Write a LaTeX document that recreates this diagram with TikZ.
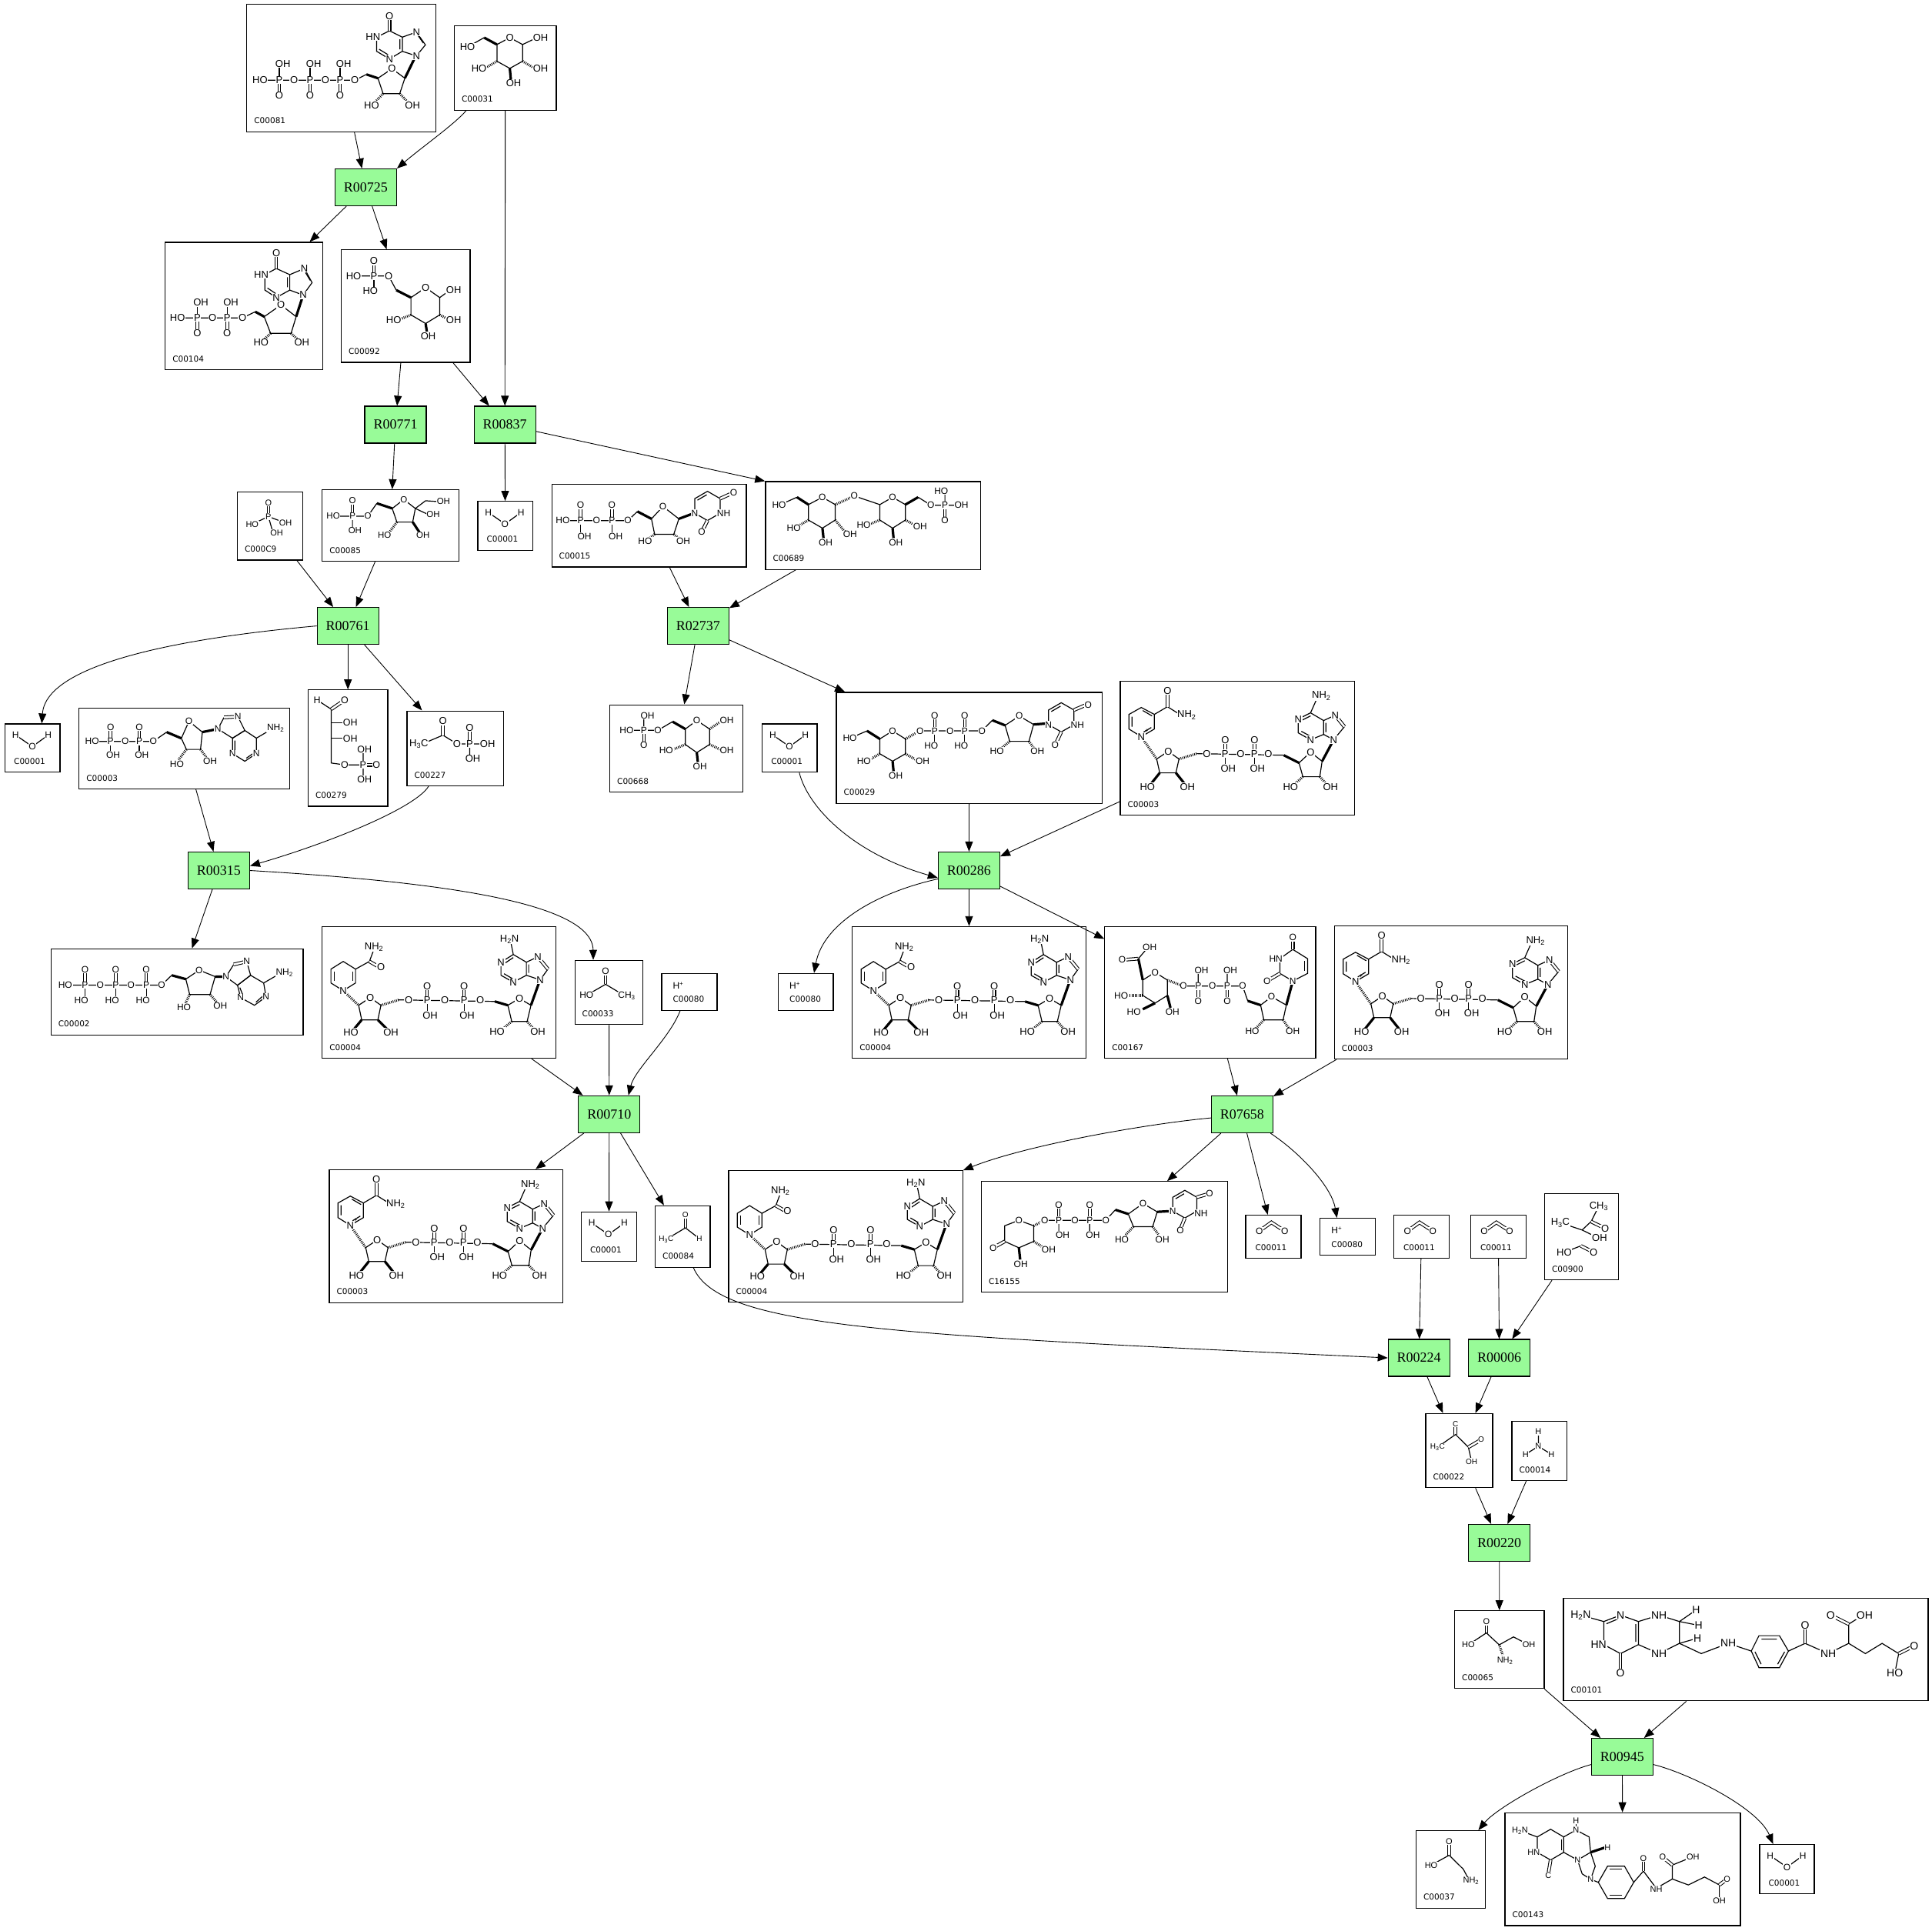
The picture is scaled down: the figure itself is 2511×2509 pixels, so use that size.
\documentclass[tikz,border=0pt]{standalone}
\usepackage{fontspec}
\usetikzlibrary{arrows.meta,fit,calc}
\newfontfamily\chemfont{Liberation Sans}
\newfontfamily\idfont{DejaVu Sans}
\newfontfamily\rxnfont{Liberation Serif}
\definecolor{rxngreen}{HTML}{98FB98}
\tikzset{
 cbox/.style={draw, line width=1.2pt, inner sep=0pt},
 rxn/.style={draw, line width=1.1pt, fill=rxngreen, minimum width=80pt, minimum height=48pt, inner sep=0pt, font=\rxnfont\fontsize{18}{18}\selectfont},
 arr/.style={line width=0.9pt, -{Triangle[length=13pt,width=10pt]}},
 idlbl/.style={font=\idfont\fontsize{10.5}{10.5}\selectfont, inner sep=0pt, anchor=base west},
 atom/.style={inner sep=0.7pt, fill=white},
 bond/.style={line width=1.2pt},
 dbl/.style={line width=1.05pt, double, double distance=2.5pt},
 wedge/.style={line width=3.2pt},
 hash/.style={line width=3.2pt, dash pattern=on 0.9pt off 1.4pt},
}
\newcommand\A[3][13]{\node[atom,font=\chemfont\fontsize{#1}{#1}\selectfont] at (#2) {#3};}
\newcommand\cpd[7][10]{%
  \coordinate (#2-nw) at (#3,#4);
  \coordinate (#2-se) at (#5,#6);
  \node[cbox, fit=(#2-nw)(#2-se)] (#2) {};
  \node[idlbl] at ([xshift=#1pt,yshift=11pt]#2.south west) {#7};
}
\tikzset{
 water/.pic={
  \draw[bond] (14.3,15) -- (36,30) -- (56.7,15);
  \A[12]{14.3,15}{H} \A[12]{36,30}{O} \A[12]{56.7,15}{H}
 },
 hplus/.pic={
  \node[atom,anchor=base west,font=\chemfont\fontsize{12}{12}\selectfont] at (14.3,20.7) {H\textsuperscript{+}};
 },
 cotwo/.pic={
  \draw[dbl] (18.3,21.3) -- (34,10) -- (51.3,21.3);
  \A[12]{18.3,21.3}{O} \A[12]{51.3,21.3}{O}
 },
 nhthree/.pic={
  \draw[bond] (35,14)--(35,33) (18.4,43.3)--(35,33)--(51.8,43.3);
  \A[11]{35,14}{H} \A[11]{35,33}{N} \A[11]{18.4,43.3}{H} \A[11]{51.8,43.3}{H}
 },
 nadp/.pic={
  \draw[bond] (12,44)--(28,35)--(45,44)--(45,63)--(28,73)--(12,63)--cycle;
  \draw[bond] (16,47)--(16,60) (30,39)--(42,46) (41,61)--(31,67);
  \draw[bond] (45,44)--(62,34)--(78,44);
  \draw[dbl] (62,34)--(62,14);
  \draw[hash] (28,73)--(48,102);
  \draw[bond] (48,102)--(63,92)--(77,102)--(73,120)--(52,120)--cycle;
  \draw[wedge] (52,120)--(40,135);
  \draw[wedge] (73,120)--(85,135);
  \draw[hash] (77,102)--(100,95);
  \draw[bond] (100,95)--(213,97);
  \draw[dbl] (137,95)--(137,77); \draw[bond] (137,95)--(137,113);
  \draw[dbl] (175,95)--(175,77); \draw[bond] (175,95)--(175,113);
  \draw[wedge] (213,97)--(233,107);
  \draw[bond] (233,107)--(248,93)--(263,105)--(260,125)--(238,125)--cycle;
  \draw[hash] (238,125)--(226,136);
  \draw[hash] (260,125)--(270,136);
  \draw[wedge] (263,105)--(278,77);
  \draw[bond] (278,77)--(292,60) (280,45)--(265,52)--(265,70)--(278,77);
  \draw[dbl] (292,60)--(280,45);
  \draw[bond] (265,70)--(248,77)--(232,68)--(232,50)--(248,42)--(265,52);
  \draw[bond] (249,73)--(236,66) (236,52)--(248,46) (268,55)--(268,67);
  \draw[bond] (248,42)--(256,24);
  \A{28,73}{N} \node[font=\chemfont\fontsize{8}{8}\selectfont] at (35,66) {+};
  \A{62,13}{O} \node[atom,anchor=west,font=\chemfont\fontsize{13}{13}\selectfont] at (74,45) {NH\textsubscript{2}};
  \A{63,92}{O} \A{36,138}{HO} \A{88,138}{OH}
  \A{113,95}{O} \A{137,95}{P} \A{157,95}{O} \A{175,95}{P} \A{193,95}{O}
  \A{137,77}{O} \A{141,114}{OH} \A{175,77}{O} \A{179,114}{OH}
  \A{248,93}{O} \A{222,138}{HO} \A{274,138}{OH}
  \A{278,77}{N} \A{280,45}{N} \A{248,77}{N} \A{232,50}{N}
  \A{262,20}{NH\textsubscript{2}}
 },
 nadh/.pic={
  \draw[bond] (12,56)--(28,46)--(44,56)--(44,74)--(28,84)--(12,74)--cycle;
  \draw[bond] (16,59)--(16,71) (40,59)--(40,71);
  \draw[bond] (44,56)--(62,46)--(68,30);
  \draw[dbl] (62,46)--(76,54);
  \draw[hash] (28,84)--(48,103);
  \draw[bond] (48,103)--(63,93)--(77,103)--(73,122)--(52,122)--cycle;
  \draw[wedge] (52,122)--(42,134);
  \draw[wedge] (73,122)--(85,134);
  \draw[hash] (77,103)--(100,96);
  \draw[bond] (100,96)--(225,98);
  \draw[dbl] (137,96)--(137,78); \draw[bond] (137,96)--(137,114);
  \draw[dbl] (185,96)--(185,78); \draw[bond] (185,96)--(185,114);
  \draw[wedge] (225,98)--(242,103);
  \draw[bond] (242,103)--(257,94)--(272,103)--(267,124)--(247,124)--cycle;
  \draw[hash] (247,124)--(236,133);
  \draw[hash] (267,124)--(275,133);
  \draw[wedge] (272,103)--(283,72);
  \draw[bond] (284,70)--(294,56) (281,40)--(266,47)--(266,64)--(284,70);
  \draw[dbl] (294,56)--(281,40);
  \draw[bond] (266,64)--(249,73)--(233,64)--(233,47)--(249,37)--(266,47);
  \draw[bond] (249,69)--(237,62) (237,49)--(249,41) (269,50)--(269,61);
  \draw[bond] (249,37)--(246,22);
  \A{28,84}{N} \A{77,53}{O} \A{68,27}{NH\textsubscript{2}}
  \A{63,93}{O} \A{38,138}{HO} \A{90,138}{OH}
  \A{113,96}{O} \A{137,96}{P} \A{160,96}{O} \A{185,96}{P} \A{206,96}{O}
  \A{137,78}{O} \A{141,116}{OH} \A{185,78}{O} \A{189,116}{OH}
  \A{257,94}{O} \A{228,137}{HO} \A{281,137}{OH}
  \A{284,70}{N} \A{281,40}{N} \A{249,73}{N} \A{233,47}{N}
  \A{244,17}{H\textsubscript{2}N}
 },
 sc81/.pic={
  \draw[bond] (17.7,99.3)--(141,99.3)--(156,91.7);
  \draw[bond] (42.7,99.3)--(42.7,78) (82.7,99.3)--(82.7,78) (121.7,99.3)--(121.7,78);
  \draw[dbl] (42.7,99.3)--(42.7,119) (82.7,99.3)--(82.7,119) (121.7,99.3)--(121.7,119);
  \draw[wedge] (156,91.7)--(171,96.7);
  \draw[bond] (171,96.7)--(189.3,84.3)--(206,96.7)--(199.3,116.7)--(177.7,116.7)--cycle;
  \draw[hash] (177.7,116.7)--(166,129);
  \draw[hash] (199.3,116.7)--(211,129);
  \draw[wedge] (206,96.7)--(219,70);
  \draw[bond] (186,35)--(169.3,43.3)--(169.3,61.7)--(186,71.7)--(202.7,61.7)--(202.7,43.3)--cycle;
  \draw[bond] (202.7,43.3)--(221,36.7)--(232.7,53.3)--(221,67.7)--(202.7,61.7);
  \draw[bond] (172.5,59)--(184,66) (199.5,46)--(199.5,59) (223,41)--(230,51);
  \draw[dbl] (186,35)--(186,16);
  \A{17.7,99.3}{HO} \A{42.7,99.3}{P} \A{62,99.3}{O} \A{82.7,99.3}{P} \A{102.7,99.3}{O} \A{121.7,99.3}{P} \A{141,99.3}{O}
  \A{47.5,78}{OH} \A{87.5,78}{OH} \A{126.5,78}{OH}
  \A{42.7,119}{O} \A{82.7,119}{O} \A{121.7,119}{O}
  \A{189.3,84.3}{O} \A{162.7,131.7}{HO} \A{216,131.7}{OH}
  \A{186,15.7}{O} \A{164.6,43.3}{HN} \A{186,71.7}{N} \A{221,36.7}{N} \A{221,67.7}{N}
 },
 sc31/.pic={
  \draw[bond] (17.7,28.3)--(39.3,16);
  \draw[wedge] (39.3,16)--(56,25);
  \draw[bond] (56,25)--(72.7,16)--(89.3,25)--(89.3,46.7)--(72.7,56)--(56,46.7)--cycle;
  \draw[bond] (89.3,25)--(108,16);
  \draw[hash] (56,46.7)--(40,56);
  \draw[hash] (89.3,46.7)--(105,56);
  \draw[wedge] (72.7,56)--(74,70);
  \A{17.7,28.3}{HO} \A{72.7,16}{O} \A{112.7,16}{OH} \A{32.7,56}{HO} \A{112.7,56}{OH} \A{77.7,75}{OH}
 },
 sc104/.pic={
  \draw[bond] (16.6,98.8)--(101.1,98.8)--(117.7,90.8);
  \draw[bond] (42.3,98.8)--(42.3,79) (81.2,98.8)--(81.2,79);
  \draw[dbl] (42.3,98.8)--(42.3,118.9) (81.2,98.8)--(81.2,118.9);
  \draw[wedge] (117.7,90.8)--(129.3,97.2);
  \draw[bond] (129.3,97.2)--(151,82)--(170.8,97.2)--(164.2,118.9)--(137.6,118.9)--cycle;
  \draw[hash] (137.6,118.9)--(128,128); \draw[hash] (164.2,118.9)--(174,128);
  \draw[wedge] (170.8,97.2)--(179.9,69.1);
  \draw[bond] (145,34.6)--(130.2,42.6)--(130.2,62.7)--(145,72.3)--(162.5,62.7)--(162.5,42.6)--cycle;
  \draw[bond] (162.5,42.6)--(181.5,34.6)--(191.5,53)--(179.9,69.1)--(162.5,62.7);
  \draw[bond] (133.5,60)--(144,67) (159.5,46)--(159.5,59) (183,40)--(189,50);
  \draw[dbl] (145,34.6)--(145,14.5);
  \A{16.6,98.8}{HO} \A{42.3,98.8}{P} \A{47,78.8}{OH} \A{42.3,118.9}{O} \A{62.2,98.8}{O}
  \A{81.2,98.8}{P} \A{86,78.8}{OH} \A{81.2,118.9}{O} \A{101.1,98.8}{O}
  \A{151,82}{O} \A{125.2,131}{HO} \A{178.2,131}{OH}
  \A{145,14.5}{O} \A{125.5,42.6}{HN} \A{145,72.3}{N} \A{181.5,34.6}{N} \A{179.9,69.1}{N}
 },
 sc92/.pic={
  \draw[dbl] (43.1,34.6)--(43.1,15.3);
  \draw[bond] (16.6,34.6)--(62.2,34.6)--(72.1,53);
  \draw[bond] (43.1,34.6)--(43.1,53.8);
  \draw[wedge] (72.1,53)--(91.2,62.7);
  \draw[bond] (91.2,62.7)--(110.3,49.8)--(128.6,62.7)--(128.6,85.2)--(110.3,96.4)--(91.2,85.2)--cycle;
  \draw[bond] (128.6,62.7)--(142,53);
  \draw[hash] (91.2,85.2)--(75,91.6); \draw[hash] (128.6,85.2)--(141,91.6);
  \draw[wedge] (110.3,96.4)--(112,108);
  \A{43.1,15.3}{O} \A{16.6,34.6}{HO} \A{43.1,34.6}{P} \A{62.2,34.6}{O} \A{38.4,53.8}{HO}
  \A{110.3,49.8}{O} \A{146.8,53}{OH} \A{68.8,91.6}{HO} \A{146.8,91.6}{OH} \A{113.7,112.5}{OH}
 },
 sc09/.pic={
  \draw[dbl] (41,14.7)--(41,32.3);
  \draw[bond] (20,42.3)--(41,32.3)--(63.3,40.7) (41,32.3)--(47,53.3);
  \A[11]{41,14.7}{O} \A[11]{41,32.3}{P} \A[11]{20,42.3}{HO} \A[11]{63.3,40.7}{OH} \A[11]{51.7,53.3}{OH}
 },
 sc85/.pic={
  \draw[dbl] (40,15)--(40,35);
  \draw[bond] (15,35)--(60,35)--(71.7,18.3) (40,35)--(40,54);
  \draw[wedge] (71.7,18.3)--(91.7,25);
  \draw[bond] (91.7,25)--(106.7,13.3)--(121.7,25)--(118.3,42.7)--(97.7,42.7)--cycle;
  \draw[bond] (121.7,25)--(135,15)--(150,16);
  \draw[bond] (121.7,25)--(138,32.7);
  \draw[hash] (97.7,42.7)--(88,56);
  \draw[wedge] (118.3,42.7)--(127,56);
  \A[11.5]{40,15}{O} \A[11.5]{15,35}{HO} \A[11.5]{40,35}{P} \A[11.5]{60,35}{O} \A[11.5]{43.3,54}{OH}
  \A[11.5]{106.7,13.3}{O} \A[11.5]{158.3,16}{OH} \A[11.5]{145,32.7}{OH} \A[11.5]{81.7,60}{HO} \A[11.5]{131.7,60}{OH}
 },
 sc15/.pic={
  \draw[bond] (14.9,48.2)--(99.5,48.2)--(111.9,36.2);
  \draw[dbl] (38.1,48.2)--(38.1,28.1) (78.8,48.2)--(78.8,28.1);
  \draw[bond] (38.1,48.2)--(38.1,68.3) (78.8,48.2)--(78.8,68.3);
  \draw[wedge] (111.9,36.2)--(130.2,45.8);
  \draw[bond] (130.2,45.8)--(145.1,29.7)--(165.8,45.8)--(159.2,65.9)--(134.3,65.9)--cycle;
  \draw[hash] (134.3,65.9)--(125,73); \draw[hash] (159.2,65.9)--(168,73);
  \draw[wedge] (165.8,45.8)--(184,39);
  \draw[bond] (186.5,38.5)--(186.5,19.5)--(203,10)--(219.5,19.5)--(219.5,38.5)--(203,48)--cycle;
  \draw[bond] (190,21.5)--(202,14.5);
  \draw[dbl] (219.5,19.5)--(236,12); \draw[dbl] (203,48)--(196,62);
  \A[12]{14.9,48.2}{HO} \A[12]{38.1,48.2}{P} \A[12]{38.1,28.1}{O} \A[12]{43,68.3}{OH}
  \A[12]{58.9,48.2}{O} \A[12]{78.8,48.2}{P} \A[12]{78.8,28.1}{O} \A[12]{83.7,68.3}{OH} \A[12]{99.5,48.2}{O}
  \A[12]{145.1,29.7}{O} \A[12]{121.9,74.7}{HO} \A[12]{171.6,74.7}{OH}
  \A[12]{186.5,38.5}{N} \A[12]{237,12}{O} \A[12]{224,38.5}{NH} \A[12]{195.5,63}{O}
 },
 sc689/.pic={
  \draw[bond] (18.2,31.3)--(41.5,20.9);
  \draw[wedge] (41.5,20.9)--(56.4,30.5);
  \draw[bond] (56.4,30.5)--(74.6,20.9)--(91.2,30.5)--(91.2,50.6)--(74.6,61.1)--(56.4,50.6)--cycle;
  \draw[hash] (56.4,50.6)--(44,58); \draw[wedge] (74.6,61.1)--(76,74); \draw[hash] (91.2,50.6)--(104,66);
  \draw[hash] (91.2,30.5)--(116.1,19.3);
  \draw[bond] (116.1,19.3)--(149.2,30.5);
  \draw[bond] (149.2,30.5)--(165.8,20.9)--(182.4,30.5)--(182.4,50.6)--(165.8,61.1)--(149.2,50.6)--cycle;
  \draw[hash] (149.2,50.6)--(136,56); \draw[wedge] (165.8,61.1)--(167,74); \draw[hash] (182.4,50.6)--(195,57);
  \draw[wedge] (182.4,30.5)--(199,20.9);
  \draw[bond] (199,20.9)--(215.6,31.3)--(255.3,31.3) (233.8,31.3)--(233.8,12.9);
  \draw[dbl] (233.8,31.3)--(233.8,51.4);
  \A[12]{18.2,31.3}{HO} \A[12]{74.6,20.9}{O} \A[12]{37.3,61.1}{HO} \A[12]{78.8,79.6}{OH} \A[12]{110.6,69.1}{OH}
  \A[12]{116.1,19.3}{O} \A[12]{165.8,20.9}{O} \A[12]{128.2,57}{HO} \A[12]{170,79.6}{OH} \A[12]{201.5,58.7}{OH}
  \A[12]{215.6,31.3}{O} \A[12]{233.8,31.3}{P} \A[12]{229,12.9}{HO} \A[12]{255.3,31.3}{OH} \A[12]{233.8,51.4}{O}
 },
 sadp/.pic={
  \draw[bond] (17.4,44.2)--(97,44.2)--(114.4,32.1);
  \draw[dbl] (41.5,44.2)--(41.5,25.7) (78.8,44.2)--(78.8,25.7);
  \draw[bond] (41.5,44.2)--(41.5,61.9) (78.8,44.2)--(78.8,61.9);
  \draw[wedge] (114.4,32.1)--(133.5,40.2);
  \draw[bond] (133.5,40.2)--(143.4,18)--(160.8,32.1)--(158.4,54.6)--(140.1,54.6)--cycle;
  \draw[hash] (140.1,54.6)--(130,68); \draw[hash] (158.4,54.6)--(166,65);
  \draw[wedge] (160.8,32.1)--(181,28);
  \draw[bond] (181,28)--(189,13) (207,12)--(216,30)--(200,40)--(181,28);
  \draw[dbl] (189,13)--(207,12);
  \draw[bond] (200,40)--(216,30)--(231,40)--(231,60)--(216,70)--(200,60)--cycle;
  \draw[bond] (203,43)--(203,57) (218,66)--(228,59);
  \draw[bond] (231,40)--(248,30);
  \A[12]{17.4,44.2}{HO} \A[12]{41.5,44.2}{P} \A[12]{41.5,25.7}{O} \A[12]{44.8,61.9}{OH}
  \A[12]{60.5,44.2}{O} \A[12]{78.8,44.2}{P} \A[12]{78.8,25.7}{O} \A[12]{82.1,61.9}{OH} \A[12]{97,44.2}{O}
  \A[12]{143.4,18}{O} \A[12]{127.7,73.9}{HO} \A[12]{170.8,69.9}{OH}
  \A[12]{181,28}{N} \A[12]{207,12}{N} \A[12]{200,60}{N} \A[12]{231,60}{N} \A[12]{256,26.5}{NH\textsubscript{2}}
 },
 sc279/.pic={
  \draw[bond] (12.4,13.7)--(30.7,25.7);
  \draw[dbl] (30.7,25.7)--(48.1,13.7);
  \draw[bond] (30.7,25.7)--(30.7,95.6)--(48.1,98)--(72.1,98) (72.1,78)--(72.1,117.3);
  \draw[dbl] (72.1,98)--(89.5,98);
  \draw[bond] (30.7,43.4)--(48,43.4) (30.7,63.5)--(48,63.5);
  \A[12.5]{12.4,13.7}{H} \A[12.5]{48.1,13.7}{O} \A[12.5]{55.5,43.4}{OH} \A[12.5]{55.5,63.5}{OH}
  \A[12.5]{48.1,98}{O} \A[12.5]{72.1,98}{P} \A[12.5]{74,78}{OH} \A[12.5]{89.5,98}{O} \A[12.5]{74,117.3}{OH}
 },
 sc227/.pic={
  \draw[bond] (20.7,43.4)--(47.3,32.1)--(65.5,43.4)--(105.3,43.4) (82.1,43.4)--(82.1,62.7);
  \draw[dbl] (47.3,32.1)--(47.3,13.7) (82.1,43.4)--(82.1,22.5);
  \A{16,43.4}{H\textsubscript{3}C} \A{47.3,13.7}{O} \A{65.5,43.4}{O} \A{82.1,43.4}{P}
  \A{82.1,22.5}{O} \A{105.3,43.4}{OH} \A{86.2,62.7}{OH}
 },
 sc668/.pic={
  \draw[bond] (22.4,33.8)--(63,33.8)--(82.1,22.5) (44.8,33.8)--(44.8,14.5);
  \draw[dbl] (44.8,33.8)--(44.8,53);
  \draw[wedge] (82.1,22.5)--(98.7,32.1);
  \draw[bond] (98.7,32.1)--(113.6,20.9)--(130.2,32.1)--(130.2,52.2)--(113.6,62.7)--(98.7,52.2)--cycle;
  \draw[hash] (130.2,32.1)--(147,21);
  \draw[hash] (98.7,52.2)--(82,59); \draw[hash] (130.2,52.2)--(145,59); \draw[wedge] (113.6,62.7)--(115,75);
  \A[12]{49.5,14.5}{OH} \A[12]{22.4,33.8}{HO} \A[12]{44.8,33.8}{P} \A[12]{63,33.8}{O} \A[12]{44.8,53}{O}
  \A[12]{113.6,20.9}{O} \A[12]{152.5,20.9}{OH} \A[12]{73.8,60.3}{HO} \A[12]{152.5,60.3}{OH} \A[12]{117.7,80.4}{OH}
 },
 sc29/.pic={
  \draw[bond] (18.2,60.3)--(40.6,50.6);
  \draw[wedge] (40.6,50.6)--(57.2,61.1);
  \draw[bond] (57.2,61.1)--(73.8,50.6)--(90.4,61.1)--(90.4,80.4)--(73.8,90)--(57.2,80.4)--cycle;
  \draw[hash] (57.2,80.4)--(44,88); \draw[hash] (90.4,80.4)--(104,88); \draw[wedge] (73.8,90)--(75,103);
  \draw[hash] (90.4,61.1)--(109.4,50.6);
  \draw[bond] (109.4,50.6)--(190,50.5)--(203.4,36.8);
  \draw[dbl] (128.5,50.6)--(128.5,30.5) (167.5,50.6)--(167.5,30.5);
  \draw[bond] (128.5,50.6)--(128.5,69.9) (167.5,50.6)--(167.5,69.9);
  \draw[wedge] (203.4,36.8)--(220,43.4);
  \draw[bond] (220,43.4)--(238.5,31.3)--(257,42.3)--(251,64.2)--(226,64.2)--cycle;
  \draw[hash] (226,64.2)--(214,74); \draw[hash] (251,64.2)--(258,74);
  \draw[wedge] (257,42.3)--(274,41);
  \draw[bond] (276.5,42.5)--(276.5,23.5)--(293,14)--(309.5,23.5)--(309.5,42.5)--(293,52)--cycle;
  \draw[bond] (280,25.5)--(292,18.5);
  \draw[dbl] (309.5,23.5)--(326,16.5); \draw[dbl] (293,52)--(286,67);
  \A[12]{18.2,60.3}{HO} \A[12]{73.8,50.6}{O} \A[12]{36.5,90}{HO} \A[12]{112.8,90}{OH} \A[12]{77.9,108.5}{OH}
  \A[12]{109.4,50.6}{O} \A[12]{128.5,50.6}{P} \A[12]{128.5,30.5}{O} \A[12]{124,69.9}{HO}
  \A[12]{148.4,50.6}{O} \A[12]{167.5,50.6}{P} \A[12]{167.5,30.5}{O} \A[12]{163,69.9}{HO} \A[12]{190,50.5}{O}
  \A[12]{238.5,31.3}{O} \A[12]{209.3,76.8}{HO} \A[12]{262,76.8}{OH}
  \A[12]{276.5,42.5}{N} \A[12]{328,16.5}{O} \A[12]{314,42.5}{NH} \A[12]{285,68.6}{O}
 },
 sc02/.pic={
  \draw[bond] (19.1,47.7)--(144.3,47.7)--(157.5,35);
  \draw[dbl] (44.8,47.7)--(44.8,27.7) (84.6,47.7)--(84.6,27.7) (124.4,47.7)--(124.4,27.7);
  \draw[bond] (44.8,47.7)--(44.8,67.7) (84.6,47.7)--(84.6,67.7) (124.4,47.7)--(124.4,67.7);
  \draw[wedge] (157.5,35)--(175.8,40);
  \draw[bond] (175.8,40)--(193.2,28.3)--(213.9,36.7)--(207.3,60)--(180.8,60)--cycle;
  \draw[hash] (180.8,60)--(175,72); \draw[hash] (207.3,60)--(216,70);
  \draw[wedge] (213.9,36.7)--(228,37);
  \draw[bond] (228,37)--(238,21) (255,17)--(260,35)--(243,48)--(228,37);
  \draw[dbl] (238,21)--(255,17);
  \draw[bond] (243,48)--(260,35)--(277,45)--(280,63)--(265,74)--(247,64)--cycle;
  \draw[bond] (250,61)--(246,51) (267,70)--(277,61);
  \draw[bond] (277,45)--(296,34);
  \A[12]{19.1,47.7}{HO} \A[12]{44.8,47.7}{P} \A[12]{64.7,47.7}{O} \A[12]{84.6,47.7}{P} \A[12]{104.5,47.7}{O} \A[12]{124.4,47.7}{P} \A[12]{144.3,47.7}{O}
  \A[12]{44.8,27.7}{O} \A[12]{84.6,27.7}{O} \A[12]{124.4,27.7}{O}
  \A[12]{40,67.7}{HO} \A[12]{80,67.7}{HO} \A[12]{120,67.7}{HO}
  \A[12]{193.2,28.3}{O} \A[12]{173.3,76.7}{HO} \A[12]{220.6,75}{OH}
  \A[12]{228,37}{N} \A[12]{255,17}{N} \A[12]{247,64}{N} \A[12]{280,63}{N} \A[12]{304,31.7}{NH\textsubscript{2}}
 },
 sc33/.pic={
  \draw[dbl] (40.6,15)--(40.6,31.7);
  \draw[bond] (15.8,46)--(40.6,31.7)--(65.5,46.7);
  \A[12]{40.6,15}{O} \A[12]{15.8,46}{HO} \A[12]{68,46.7}{CH\textsubscript{3}}
 },
 sc84/.pic={
  \draw[dbl] (39.8,12.7)--(39.8,29.3);
  \draw[bond] (14.9,44.3)--(39.8,29.3)--(58,43.3);
  \A[10]{39.8,12.7}{O} \A[10]{14.9,44.3}{H\textsubscript{3}C} \A[10]{58,43.3}{H}
 },
 sc167/.pic={
  \draw[bond] (56.9,27.4)--(44.3,42.2);
  \draw[dbl] (44.3,42.2)--(23.4,43.9);
  \draw[wedge] (50,70)--(44.3,42.2);
  \draw[bond] (50,70)--(66,60)--(82,70)--(82,90)--(66,100)--(50,90)--cycle;
  \draw[hash] (50,90)--(32,90); \draw[wedge] (66,100)--(50,108); \draw[wedge] (82,90)--(86,106);
  \draw[hash] (82,70)--(102.8,77.9);
  \draw[bond] (102.8,77.9)--(179.8,77.9)--(186.5,97.1) (122.1,77.9)--(122.1,57) (159.7,77.9)--(159.7,57);
  \draw[dbl] (122.1,77.9)--(122.1,97.1) (159.7,77.9)--(159.7,97.1);
  \draw[wedge] (186.5,97.1)--(203.2,102.6);
  \draw[bond] (203.2,102.6)--(217.4,91.6)--(236.6,102.6)--(232.4,121.8)--(207.4,121.8)--cycle;
  \draw[hash] (207.4,121.8)--(197,133); \draw[hash] (232.4,121.8)--(240,133);
  \draw[wedge] (236.6,102.6)--(245,71.3);
  \draw[bond] (245,71.3)--(264.2,61.4)--(264.2,42.2)--(245,30.2)--(228.3,42.2)--(228.3,61.4)--cycle;
  \draw[bond] (260.5,45)--(260.5,58);
  \draw[dbl] (245,30.2)--(245,14.8); \draw[dbl] (228.3,61.4)--(211.5,71.3);
  \A[12]{59,27.4}{OH} \A[12]{23.4,43.9}{O} \A[12]{66,60}{O} \A[12]{22,90}{HO} \A[12]{38.5,111.9}{HO} \A[12]{88.6,111.9}{OH}
  \A[12]{102.8,77.9}{O} \A[12]{122.1,77.9}{P} \A[12]{126.3,57}{OH} \A[12]{122.1,97.1}{O}
  \A[12]{140.5,77.9}{O} \A[12]{159.7,77.9}{P} \A[12]{163.9,57}{OH} \A[12]{159.7,97.1}{O} \A[12]{179.8,77.9}{O}
  \A[12]{217.4,91.6}{O} \A[12]{192.3,136.6}{HO} \A[12]{245,136.6}{OH}
  \A[12]{245,71.3}{N} \A[12]{245,14.8}{O} \A[12]{223,42.2}{HN} \A[12]{211.5,71.3}{O}
 },
 sc16155/.pic={
  \draw[bond] (30.9,58.1)--(49.3,51)--(68.6,58.1)--(68.6,78.4)--(49.3,86.7)--(30.9,78.4)--cycle;
  \draw[dbl] (30.9,78.4)--(15.9,86.7);
  \draw[wedge] (49.3,86.7)--(51,102); \draw[hash] (68.6,78.4)--(82,87);
  \draw[hash] (68.6,58.1)--(82.8,51);
  \draw[bond] (82.8,51)--(162.3,51)--(174.7,37.3) (101.2,51)--(101.2,70.2) (141.4,51)--(141.4,70.2);
  \draw[dbl] (101.2,51)--(101.2,30.7) (141.4,51)--(141.4,30.7);
  \draw[wedge] (174.7,37.3)--(191.5,42.8);
  \draw[bond] (191.5,42.8)--(210.7,29.1)--(229.1,40)--(223.2,59.2)--(198.2,59.2)--cycle;
  \draw[hash] (198.2,59.2)--(188,70); \draw[hash] (223.2,59.2)--(231,70);
  \draw[wedge] (229.1,40)--(247,39);
  \draw[bond] (249.4,39)--(249.4,21)--(265,12)--(280.6,21)--(280.6,39)--(265,48)--cycle;
  \draw[bond] (253,23)--(264,16.5);
  \draw[dbl] (280.6,21)--(296,16.5); \draw[dbl] (265,48)--(259,63);
  \A[12]{49.3,51}{O} \A[12]{15.9,86.7}{O} \A[12]{51.8,108.6}{OH} \A[12]{88,89.4}{OH}
  \A[12]{82.8,51}{O} \A[12]{101.2,51}{P} \A[12]{101.2,30.7}{O} \A[12]{106.2,70.2}{OH}
  \A[12]{122.1,51}{O} \A[12]{141.4,51}{P} \A[12]{141.4,30.7}{O} \A[12]{145.5,70.2}{OH} \A[12]{162.3,51}{O}
  \A[12]{210.7,29.1}{O} \A[12]{183.1,75.7}{HO} \A[12]{235.8,75.7}{OH}
  \A[12]{249.4,39}{N} \A[12]{297,16.5}{O} \A[12]{286,41.7}{NH} \A[12]{259,64.5}{O}
 },
 sc900/.pic={
  \draw[bond] (71,16.7)--(61,36.7)--(49.3,47.7)--(21,38.3) (49.3,47.7)--(71,58.3);
  \draw[dbl] (61,36.7)--(79.3,45.7);
  \draw[bond] (26,76.7)--(47.7,68.3);
  \draw[dbl] (47.7,68.3)--(64.3,76.7);
  \A{71,16.7}{CH\textsubscript{3}} \A{21,38.3}{H\textsubscript{3}C} \A{79.3,45.7}{O} \A{72,58.3}{OH}
  \A{26,76.7}{HO} \A{64.3,76.7}{O}
 },
 sc22/.pic={
  \draw[dbl] (39.3,13.9)--(39.3,27.9);
  \draw[bond] (15.9,44.4)--(39.3,27.9)--(56,44.4)--(60.2,63);
  \draw[dbl] (56,44.4)--(72.7,34.6);
  \A[10]{39.3,13.9}{C} \A[10]{15.9,44.4}{H\textsubscript{3}C} \A[10]{72.7,34.6}{O} \A[10]{60.2,63}{OH}
 },
 sc65/.pic={
  \draw[dbl] (41.8,15)--(41.8,29.4);
  \draw[bond] (18.4,44.9)--(41.8,29.4)--(58.5,44.9)--(77,34.6)--(97,44.9);
  \draw[hash] (58.5,44.9)--(63,58);
  \A[11]{41.8,15}{O} \A[11]{18.4,44.9}{HO} \A[11]{97,44.9}{OH} \A[11]{66.1,65.5}{NH\textsubscript{2}}
 },
 sc101/.pic={
  \draw[bond] (53,30.6)--(74.7,22.3)--(98,30.6)--(98,60.6)--(74.7,72.3)--(53,60.6)--cycle;
  \draw[bond] (56.5,33.5)--(72,27) (94.5,34)--(94.5,57);
  \draw[bond] (23,22.3)--(53,30.6);
  \draw[dbl] (74.7,72.3)--(74.7,97.3);
  \draw[bond] (98,30.6)--(124.7,22.3)--(151.3,30.6)--(151.3,59)--(124.7,72.3)--(98,60.6);
  \draw[bond] (151.3,30.6)--(173,15.6) (151.3,30.6)--(176.3,35.6) (151.3,59)--(174.7,52.3);
  \draw[bond] (151.3,59)--(179.7,72.3)--(214.7,59)--(244.7,69);
  \draw[bond] (244.7,69)--(254.7,49)--(281.3,49)--(293,69)--(281.3,90.6)--(254.7,90.6)--cycle;
  \draw[bond] (258,53.5)--(278,53.5) (288,70)--(279,86) (249.5,70)--(257.5,86);
  \draw[bond] (293,69)--(314.7,59)--(344.7,72.3)--(371.3,59)--(371.3,34)--(389.7,22.3);
  \draw[dbl] (314.7,59)--(314.7,35.6);
  \draw[dbl] (371.3,34)--(348,22.3);
  \draw[bond] (371.3,59)--(393,72.3)--(414.7,59)--(436.3,72.3)--(431.3,97.3);
  \draw[dbl] (436.3,72.3)--(456.3,62.3);
  \A[14]{23,22.3}{H\textsubscript{2}N} \A[14]{74.7,22.3}{N} \A[14]{46.3,60.6}{HN} \A[14]{74.7,97.3}{O}
  \A[14]{124.7,22.3}{NH} \A[14]{124.7,72.3}{NH}
  \A[14]{173,15.6}{H} \A[14]{176.3,35.6}{H} \A[14]{174.7,52.3}{H} \A[14]{214.7,59}{NH}
  \A[14]{314.7,35.6}{O} \A[14]{344.7,72.3}{NH} \A[14]{348,22.3}{O} \A[14]{392,22.3}{OH} \A[14]{456.3,62.3}{O} \A[14]{431.3,97.3}{HO}
 },
 sc37/.pic={
  \draw[dbl] (43.5,14.4)--(43.5,32.5);
  \draw[bond] (20.1,45.4)--(43.5,32.5)--(61.9,50.6)--(70.2,66);
  \A[11]{43.5,14.4}{O} \A[11]{20.1,45.4}{HO} \A[11]{72,66}{NH\textsubscript{2}}
 },
 sc143/.pic={
  \draw[bond] (42.6,32)--(60,22)--(77,32)--(77,52)--(60,62)--(42.6,52)--cycle;
  \draw[bond] (74,35)--(74,49);
  \draw[bond] (20.1,23.7)--(42.6,32);
  \draw[dbl] (60,62)--(57,80);
  \draw[bond] (77,32)--(93,23)--(110,32)--(112,52)--(95,62)--(77,52);
  \draw[bond] (93,23)--(93,12);
  \draw[wedge] (112,52)--(130,46);
  \draw[bond] (95,62)--(101,80)--(112,87)--(118,70)--(112,52);
  \draw[bond] (112,87)--(122,91);
  \draw[bond] (122,91)--(134,70)--(156,70)--(168,91)--(156,112)--(134,112)--cycle;
  \draw[bond] (137,74)--(153,74) (153,108)--(137,108);
  \draw[bond] (168,91)--(180.6,76.4)--(197.3,98.6)--(218.2,86.7)--(218.2,68.6)--(243.3,58.3);
  \draw[dbl] (180.6,76.4)--(180.6,60);
  \draw[dbl] (218.2,68.6)--(205.7,58.3);
  \draw[bond] (218.2,86.7)--(239,94.4)--(260,84.1)--(279.3,94.4)--(279.3,115);
  \draw[dbl] (279.3,94.4)--(289.3,86.7);
  \A[11]{20.1,23.7}{H\textsubscript{2}N} \A[11]{38,52}{HN} \A[11]{57,81.5}{C}
  \A[11]{93,23}{N} \A[11]{93,11}{H} \A[11]{95,62}{N} \A[11]{134,46}{H} \A[11]{112,87}{N}
  \A[11]{180.6,60}{O} \A[11]{197.3,100}{NH} \A[11]{205.7,58.3}{O} \A[11]{245,58.3}{OH} \A[11]{289.3,86.7}{O} \A[11]{279.3,115}{OH}
 },
}
\begin{document}
\begin{tikzpicture}[x=1pt,y=-1pt]
\useasboundingbox (0,0) rectangle (2511,2509);
% compounds
\cpd{c81}{320.8}{5.6}{566.2}{171.2}{C00081}
\cpd{c31}{590.5}{33.5}{723}{143.2}{C00031}
\cpd{c104}{214.7}{315}{419.5}{480.5}{C00104}
\cpd{c92}{443.5}{324.7}{611}{470.9}{C00092}
\cpd{c09}{308.4}{639.7}{393.8}{728}{C000C9}
\cpd{c85}{418.7}{636.5}{596.1}{729.7}{C00085}
\cpd[12]{w1}{621}{651.7}{692.3}{715.2}{C00001}
\cpd{c15}{717.1}{629.2}{970}{736.9}{C00015}
\cpd{c689}{994.9}{626}{1274.3}{740.1}{C00689}
\cpd[12]{w2}{6.6}{941}{78}{1003.7}{C00001}
\cpd{adp}{102.8}{920.1}{376.4}{1025.4}{C00003}
\cpd{c279}{400.4}{896.8}{504}{1047.9}{C00279}
\cpd{c227}{529}{924.1}{654.1}{1021.4}{C00227}
\cpd{c668}{792.6}{916.1}{965.8}{1029.4}{C00668}
\cpd[12]{w3}{990.7}{941}{1062}{1003.7}{C00001}
\cpd{c29}{1086.9}{900}{1432.4}{1044.3}{C00029}
\cpd{nad1}{1455.9}{885.2}{1760.2}{1059.7}{C00003}
\cpd{c02}{66.3}{1233.3}{393.9}{1345.3}{C00002}
\cpd{nadh1}{418.7}{1204.3}{722.2}{1375.6}{C00004}
\cpd{c33}{747.1}{1248.3}{835.8}{1331.7}{C00033}
\cpd[15]{hp1}{859.9}{1265.3}{932}{1313.3}{C00080}
\cpd[15]{hp2}{1011.6}{1265.3}{1082.9}{1313.3}{C00080}
\cpd{nadh2}{1107.8}{1204.4}{1411.5}{1375.6}{C00004}
\cpd{c167}{1435.8}{1204.5}{1710}{1375.6}{C00167}
\cpd{nad2}{1734.3}{1203.4}{2037.8}{1376.7}{C00003}
\cpd{nad3}{427.9}{1520.3}{731.3}{1693.3}{C00003}
\cpd[12]{w4}{755.4}{1575.3}{827.5}{1639.3}{C00001}
\cpd{c84}{851.6}{1567.3}{922.9}{1647.3}{C00084}
\cpd{nadh3}{946.9}{1521.7}{1251.2}{1692.5}{C00004}
\cpd{c16155}{1275.5}{1535.8}{1595.5}{1679.5}{C16155}
\cpd[13]{co2a}{1619}{1579.5}{1691}{1635.5}{C00011}
\cpd[15]{hp3}{1715.8}{1583.7}{1787.2}{1631.5}{C00080}
\cpd[13]{co2b}{1811.5}{1579.5}{1883.3}{1635.5}{C00011}
\cpd[13]{co2c}{1911.4}{1579.5}{1983.3}{1635.5}{C00011}
\cpd{c900}{2007.5}{1551.7}{2103.2}{1663.5}{C00900}
\cpd{c22}{1853}{1837.3}{1940}{1933.7}{C00022}
\cpd{c14}{1965}{1847.6}{2036.1}{1924.5}{C00014}
\cpd{c65}{1890.6}{2093.7}{2006.9}{2194.8}{C00065}
\cpd{c101}{2032}{2077.7}{2506}{2210.8}{C00101}
\cpd{c37}{1840.5}{2379.6}{1930.8}{2480.2}{C00037}
\cpd{c143}{1955.9}{2356.3}{2261.9}{2502.9}{C00143}
\cpd[12]{w5}{2287}{2397.6}{2358}{2461.6}{C00001}
% structures
\foreach \n in {w1,w2,w3,w4,w5} {\pic at (\n.north west) {water};}
\foreach \n in {hp1,hp2,hp3} {\pic at (\n.north west) {hplus};}
\foreach \n in {co2a,co2b,co2c} {\pic at (\n.north west) {cotwo};}
\pic at (c14.north west) {nhthree};
\foreach \n in {nad1,nad2,nad3} {\pic at (\n.north west) {nadp};}
\foreach \n in {nadh1,nadh2,nadh3} {\pic at (\n.north west) {nadh};}
\pic at (c81.north west) {sc81};
\pic at (c31.north west) {sc31};
\pic at (c104.north west) {sc104};
\pic at (c92.north west) {sc92};
\pic at (c09.north west) {sc09};
\pic at (c85.north west) {sc85};
\pic at (c15.north west) {sc15};
\pic at (c689.north west) {sc689};
\pic at (adp.north west) {sadp};
\pic at (c279.north west) {sc279};
\pic at (c227.north west) {sc227};
\pic at (c668.north west) {sc668};
\pic at (c29.north west) {sc29};
\pic at (c02.north west) {sc02};
\pic at (c33.north west) {sc33};
\pic at (c84.north west) {sc84};
\pic at (c167.north west) {sc167};
\pic at (c16155.north west) {sc16155};
\pic at (c900.north west) {sc900};
\pic at (c22.north west) {sc22};
\pic at (c65.north west) {sc65};
\pic at (c101.north west) {sc101};
\pic at (c37.north west) {sc37};
\pic at (c143.north west) {sc143};
% reactions
\node[rxn] (R00725) at (475.4,243.5) {R00725};
\node[rxn] (R00771) at (514,552) {R00771};
\node[rxn] (R00837) at (656.2,552) {R00837};
\node[rxn] (R00761) at (452.2,813.6) {R00761};
\node[rxn] (R02737) at (907.4,813.6) {R02737};
\node[rxn] (R00315) at (284.4,1131.5) {R00315};
\node[rxn] (R00286) at (1259.4,1131.5) {R00286};
\node[rxn] (R00710) at (791.8,1448.3) {R00710};
\node[rxn] (R07658) at (1614.3,1448.6) {R07658};
\node[rxn] (R00224) at (1844.2,1765) {R00224};
\node[rxn] (R00006) at (1948.7,1765) {R00006};
\node[rxn] (R00220) at (1948.7,2005.5) {R00220};
\node[rxn] (R00945) at (2108.4,2283.6) {R00945};
% edges
\draw[arr] (c81) -- (R00725);
\draw[arr] ([xshift=16pt]c31.south west) .. controls (590,162) and (550,190) .. (R00725.north east);
\draw[arr] (c31) -- (R00837);
\draw[arr] (R00725) -- (c104);
\draw[arr] (R00725) -- (c92);
\draw[arr] (c92) -- (R00771);
\draw[arr] (c92) -- (R00837);
\draw[arr] (R00771) -- (c85);
\draw[arr] (R00837) -- (w1);
\draw[arr] (R00837) -- (c689.north west);
\draw[arr] (c09) -- (R00761);
\draw[arr] (c85) -- (R00761);
\draw[arr] (R00761.west) .. controls (250,828) and (60,860) .. ([xshift=12pt]w2.north);
\draw[arr] (R00761) -- (c279);
\draw[arr] (R00761) -- (c227);
\draw[arr] (c15) -- (R02737);
\draw[arr] (c689) -- (R02737);
\draw[arr] (R02737) -- (c668);
\draw[arr] (R02737) -- (c29);
\draw[arr] (adp) -- (R00315);
\draw[arr] ([xshift=-34.5pt]c227.south) .. controls (540,1050) and (430,1095) .. ([yshift=6pt]R00315.east);
\draw[arr] ([xshift=12.5pt]w3.south) .. controls (1050,1050) and (1110,1110) .. ([yshift=-9.5pt]R00286.west);
\draw[arr] (c29) -- (R00286);
\draw[arr] (nad1) -- (R00286);
\draw[arr] (R00315) -- (c02);
\draw[arr] (R00315.east) .. controls (550,1145) and (770,1170) .. ([xshift=-20.4pt]c33.north);
\draw[arr] ([yshift=-11pt]R00286.west) .. controls (1140,1160) and (1070,1200) .. ([xshift=10.75pt]hp2.north);
\draw[arr] (R00286) -- (nadh2);
\draw[arr] (R00286) -- (c167);
\draw[arr] (nadh1) -- (R00710);
\draw[arr] (c33) -- (R00710);
\draw[arr] ([xshift=-12pt]hp1.south) .. controls (870,1350) and (825,1390) .. ([xshift=25pt]R00710.north);
\draw[arr] (c167) -- (R07658);
\draw[arr] (nad2) -- (R07658);
\draw[arr] (R00710) -- (nad3);
\draw[arr] (R00710) -- (w4);
\draw[arr] (R00710) -- (c84);
\draw[arr] ([yshift=-4.5pt]R07658.west) .. controls (1480,1462) and (1330,1490) .. (nadh3.north east);
\draw[arr] (R07658) -- (c16155);
\draw[arr] (R07658) -- (co2a);
\draw[arr] ([xshift=37pt]R07658.south) .. controls (1685,1495) and (1730,1540) .. ([xshift=-13.9pt]hp3.north);
\draw[arr] ([xshift=14pt]c84.south) .. controls (935,1725) and (1150,1735) .. (R00224.west);
\draw[arr] (co2b) -- (R00224);
\draw[arr] (co2c) -- (R00006);
\draw[arr] (c900) -- (R00006);
\draw[arr] (R00224) -- (c22);
\draw[arr] (R00006) -- (c22);
\draw[arr] (c22) -- (R00220);
\draw[arr] (c14) -- (R00220);
\draw[arr] (R00220) -- (c65);
\draw[arr] (c65) -- (R00945);
\draw[arr] (c101) -- (R00945);
\draw[arr] ([yshift=-10pt]R00945.west) .. controls (2025,2305) and (1945,2350) .. ([xshift=-10pt]c37.north east);
\draw[arr] (R00945) -- (c143);
\draw[arr] ([yshift=-10pt]R00945.east) .. controls (2195,2305) and (2285,2350) .. ([xshift=-18pt]w5.north);
\end{tikzpicture}
\end{document}
